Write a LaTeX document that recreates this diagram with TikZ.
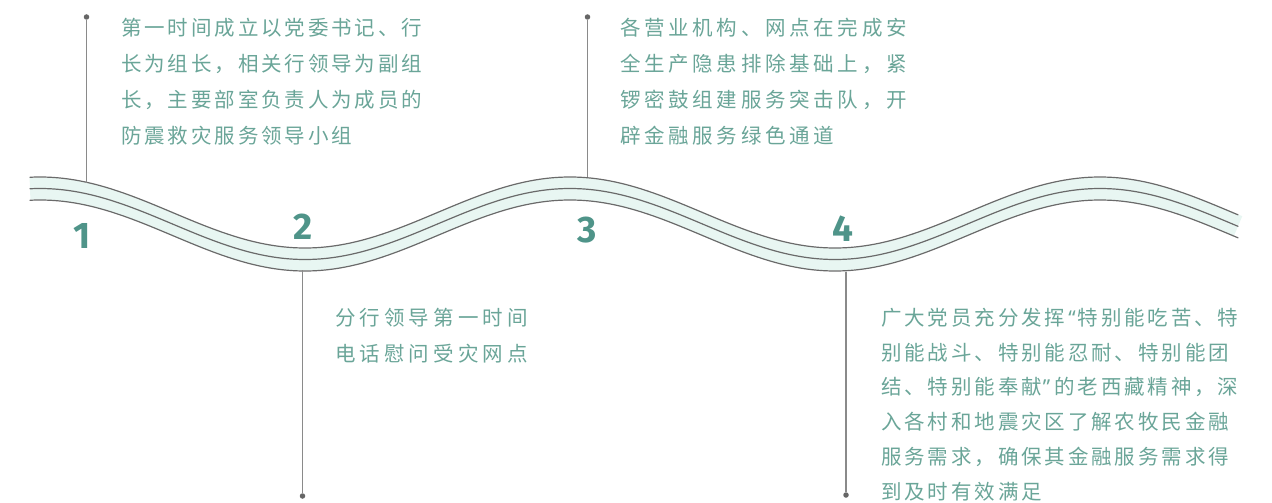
\documentclass[tikz,border=0pt]{standalone}
\usepackage{fontspec}
\newfontfamily\cjkA[LetterSpace=14]{Noto Sans CJK SC}
\newfontfamily\cjkB[LetterSpace=20]{Noto Sans CJK SC}
\newfontfamily\cjkC[LetterSpace=18]{Noto Sans CJK SC}
\newfontfamily\quotefont{Noto Sans}
\newfontfamily\numfont{Fira Sans}
\newcommand{\myopenq}{\hspace{3pt}{\quotefont “}\hspace{2pt}}
\newcommand{\mycloseq}{\hspace{1pt}{\quotefont ”}\hspace{4pt}}
\definecolor{txtteal}{HTML}{6AA598}
\definecolor{numteal}{HTML}{4F9489}
\definecolor{mint}{HTML}{E8F6F2}
\definecolor{waveline}{HTML}{6A6A6A}
\definecolor{pingray}{HTML}{8A8A8A}
\tikzset{
  wavestroke/.style={draw=waveline, line width=1.2pt, line cap=round},
  waveband/.style={draw=mint, line width=22pt},
  pinline/.style={draw=pingray, line width=1.3pt},
  pindot/.style={circle, fill=black!60, inner sep=0pt, minimum size=5.5pt},
  numlabel/.style={font=\numfont\bfseries\fontsize{37}{37}\selectfont, text=numteal, inner sep=0pt},
  blocktext/.style={align=left, anchor=north west, inner sep=0pt, text=txtteal}
}
\newcommand{\wavepath}[1]{plot[domain=30:1238, samples=300, variable=\t] (\t,{212.5+#1-35.5*cos(0.6792453*(\t-40))})}
\begin{document}
\begin{tikzpicture}[x=1pt,y=-1pt]
\useasboundingbox (0,0) rectangle (1272,503);
% wave
\draw[waveband] \wavepath{11.5};
\draw[wavestroke] \wavepath{0};
\draw[wavestroke] \wavepath{11.5};
\draw[wavestroke] \wavepath{23};
% pins
\node[pindot] (d1) at (86.5,17) {};
\coordinate (w1) at (86.5,182.5);
\draw[pinline] (d1) -- (w1);
\node[pindot] (d2) at (302.5,496) {};
\coordinate (w2) at (302.5,270);
\draw[pinline] (w2) -- (d2);
\node[pindot] (d3) at (587.5,17) {};
\coordinate (w3) at (587.5,177);
\draw[pinline] (d3) -- (w3);
\node[pindot] (d4) at (846,495) {};
\coordinate (w4) at (846,272);
\draw[pinline] (w4) -- (d4);
% numbers
\node[numlabel] (n1) at (82,236) {1};
\node[numlabel] (n2) at (303,227) {2};
\node[numlabel] (n3) at (587,230) {3};
\node[numlabel] (n4) at (843,229) {4};
% texts
\node[blocktext, font=\cjkA\fontsize{20.5}{36}\selectfont] (t1) at (121,16)
{\rule{0pt}{19pt}第一时间成立以党委书记、行\\
长为组长，相关行领导为副组\\
长，主要部室负责人为成员的\\
防震救灾服务领导小组};
\node[blocktext, font=\cjkB\fontsize{20.5}{36}\selectfont] (t2) at (335,306)
{\rule{0pt}{19pt}分行领导第一时间\\
电话慰问受灾网点};
\node[blocktext, font=\cjkC\fontsize{20.5}{36}\selectfont] (t3) at (620,16)
{\rule{0pt}{19pt}各营业机构、网点在完成安\\
全生产隐患排除基础上，紧\\
锣密鼓组建服务突击队，开\\
辟金融服务绿色通道};
\node[blocktext, font=\cjkA\fontsize{20.5}{34.8}\selectfont] (t4) at (881,306)
{\rule{0pt}{19pt}广大党员充分发挥\myopenq 特别能吃苦、特\\
别能战斗、特别能忍耐、特别能团\\
结、特别能奉献\mycloseq 的老西藏精神，深\\
入各村和地震灾区了解农牧民金融\\
服务需求，确保其金融服务需求得\\
到及时有效满足};
\end{tikzpicture}
\end{document}
